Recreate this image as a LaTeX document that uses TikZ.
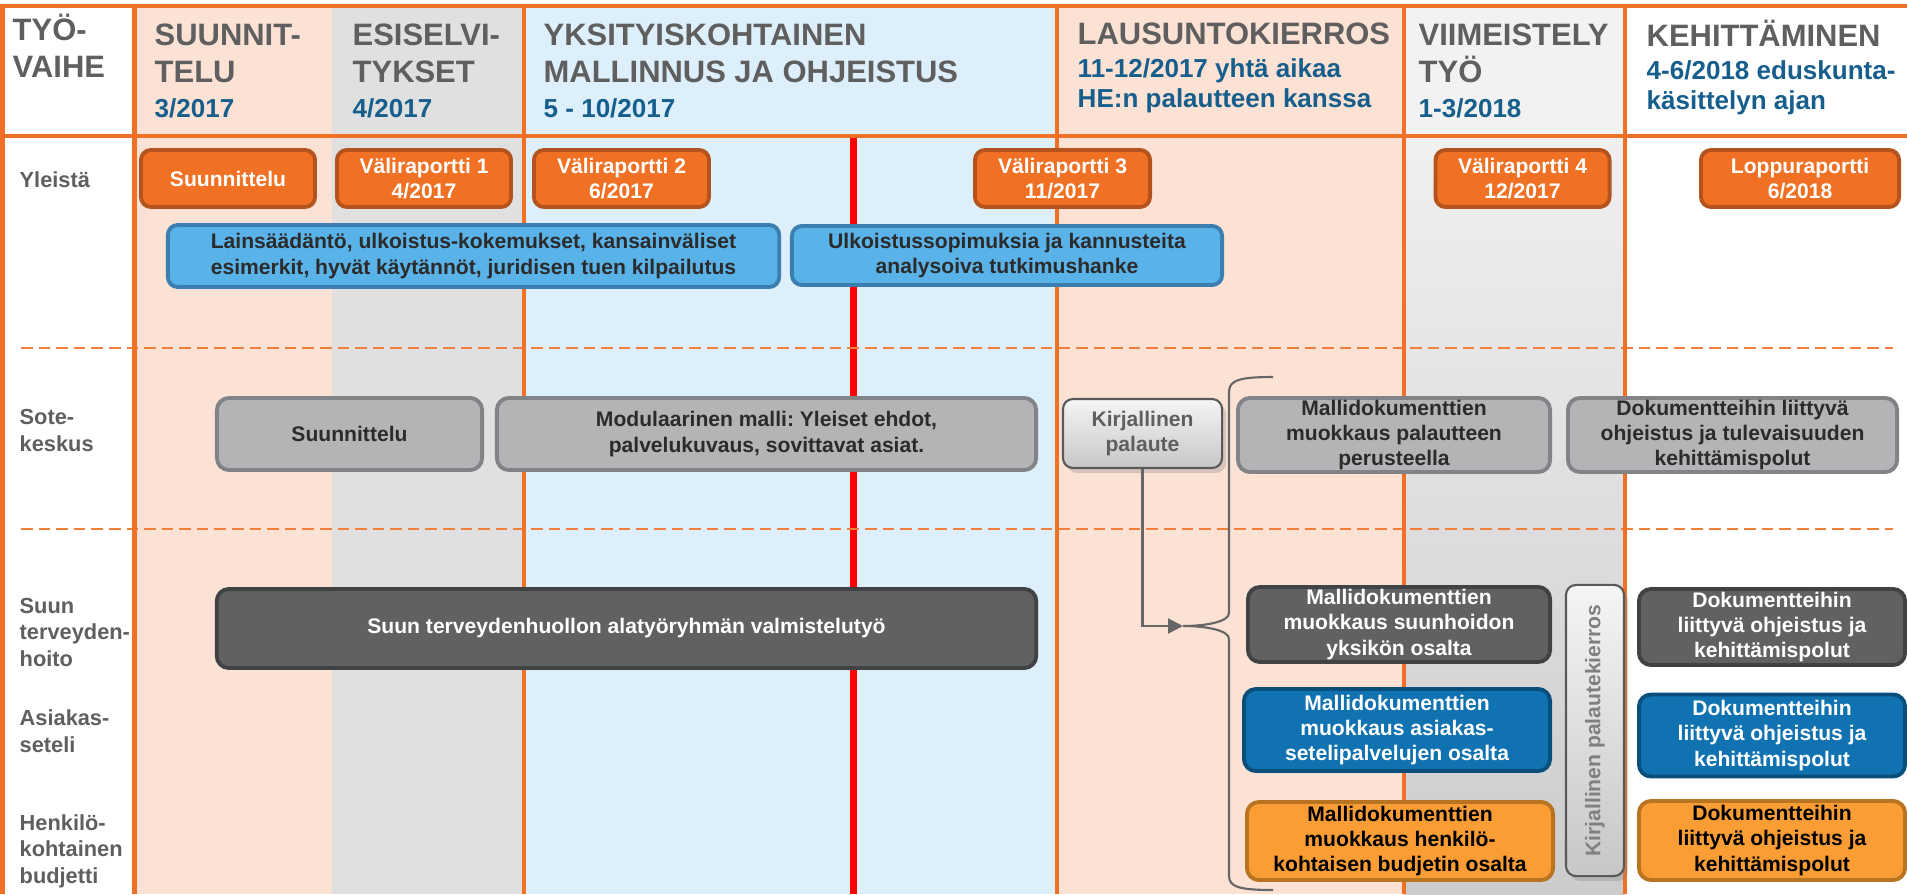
\documentclass[tikz,border=0pt]{standalone}
\usepackage{fontspec}
\setmainfont{Liberation Sans}
\usetikzlibrary{shadows,arrows.meta}
\frenchspacing

\definecolor{orangerule}{HTML}{F07125}
\definecolor{peach}{HTML}{FCE2D4}
\definecolor{paleshade}{HTML}{DFE0DF}
\definecolor{sky}{HTML}{DDEFFA}
\definecolor{finalhead}{HTML}{F2F2F2}
\definecolor{titlegrey}{HTML}{5F5F5F}
\definecolor{dateblue}{HTML}{165E8C}
\definecolor{darktext}{HTML}{2B2B2B}
\definecolor{repfill}{HTML}{F07124}
\definecolor{repdraw}{HTML}{B5531F}
\definecolor{studyfill}{HTML}{5AB3E8}
\definecolor{studydraw}{HTML}{3A7FB0}
\definecolor{sotefill}{HTML}{B3B4B6}
\definecolor{sotedraw}{HTML}{828386}
\definecolor{oralfill}{HTML}{606163}
\definecolor{oraldraw}{HTML}{414244}
\definecolor{voucherfill}{HTML}{1072B0}
\definecolor{voucherdraw}{HTML}{0A4E7C}
\definecolor{budgetfill}{HTML}{F99D34}
\definecolor{budgetdraw}{HTML}{B87420}
\definecolor{notedraw}{HTML}{595959}
\definecolor{linkgrey}{HTML}{666666}

\tikzset{
  card/.style={rounded corners=0.1cm, line width=1.1pt, align=center, inner sep=0pt,
    font=\fontsize{6}{7.2}\selectfont\bfseries},
  report/.style={card, fill=repfill, draw=repdraw, text=white},
  study/.style={card, fill=studyfill, draw=studydraw, text=darktext},
  sote/.style={card, rounded corners=0.12cm, fill=sotefill, draw=sotedraw, text=darktext},
  oral/.style={card, rounded corners=0.12cm, fill=oralfill, draw=oraldraw, text=white},
  voucher/.style={card, rounded corners=0.12cm, fill=voucherfill, draw=voucherdraw, text=white},
  budget/.style={card, rounded corners=0.12cm, fill=budgetfill, draw=budgetdraw, text=black},
  feedback/.style={card, line width=0.6pt, draw=notedraw, text=titlegrey,
    top color=white!96!black, bottom color=white!78!black,
    drop shadow={shadow xshift=0.04cm, shadow yshift=-0.05cm, opacity=0.3}},
  phasetitle/.style={anchor=base west, inner sep=0pt, align=left, text=titlegrey,
    font=\fontsize{8.8}{10.8}\selectfont\bfseries},
  phasedate/.style={anchor=base west, inner sep=0pt, align=left, text=dateblue,
    font=\fontsize{7.4}{8.8}\selectfont\bfseries},
  rowname/.style={anchor=base west, inner sep=0pt, align=left, text=titlegrey,
    font=\fontsize{6.2}{7.4}\selectfont\bfseries},
  colrule/.style={draw=orangerule, line width=1.4pt},
  rowsep/.style={draw=orangerule!90!white, line width=0.7pt, dash pattern=on 3.3pt off 1.7pt},
  bracket/.style={draw=linkgrey, line width=0.6pt},
}

\begin{document}
\begin{tikzpicture}[x=0.01cm, y=-0.01cm]
\useasboundingbox (0,0) rectangle (1907,894);

% column backgrounds
\fill[peach] (134,6) rectangle (332,894);
\fill[paleshade] (332,6) rectangle (524,894);
\fill[sky] (524,6) rectangle (1057,894);
\fill[peach] (1057,6) rectangle (1404,894);
\fill[finalhead] (1404,6) rectangle (1625,136);
\shade[top color=white!94!black, bottom color=white!80!black] (1404,136) rectangle (1625,894);

% deadline
\draw[red, line width=2pt] (853,138) -- (853,894);

% row separators
\draw[rowsep] (21,348) -- (1893,348);
\draw[rowsep] (21,529) -- (1893,529);

% grid
\draw[colrule] (0,6) -- (1907,6);
\draw[colrule] (0,136) -- (1907,136);
\draw[colrule] (2.5,6) -- (2.5,894);
\draw[colrule] (134.5,6) -- (134.5,894);
\draw[colrule] (524,6) -- (524,894);
\draw[colrule] (1057,6) -- (1057,894);
\draw[colrule] (1404,6) -- (1404,894);
\draw[colrule] (1625,6) -- (1625,894);

% header (base = last line)
\node[phasetitle] (tyo) at (12,78) {TYÖ-\\VAIHE};
\node[phasetitle] (suunt) at (154,83) {SUUNNIT-\\TELU};
\node[phasedate] (suund) at (154,117) {3/2017};
\node[phasetitle] (esist) at (352,83) {ESISELVI-\\TYKSET};
\node[phasedate] (esisd) at (352,117) {4/2017};
\node[phasetitle] (yksit) at (543,83) {YKSITYISKOHTAINEN\\MALLINNUS JA OHJEISTUS};
\node[phasedate] (yksid) at (543,117) {5 - 10/2017};
\node[phasetitle] (laust) at (1077,45) {LAUSUNTOKIERROS};
\node[phasedate] (lausd) at (1077,108) {11-12/2017 yhtä aikaa\\HE:n palautteen kanssa};
\node[phasetitle] (viimt) at (1418,83) {VIIMEISTELY\\TYÖ};
\node[phasedate] (viimd) at (1418,117) {1-3/2018};
\node[phasetitle] (kehit) at (1646,47) {KEHITTÄMINEN};
\node[phasedate] (kehid) at (1646,110) {4-6/2018 eduskunta-\\käsittelyn ajan};

% row names
\node[rowname] (yleista) at (19,187) {Yleistä};
\node[rowname] (sotek) at (19,451) {Sote-\\keskus};
\node[rowname] (suunh) at (19,666) {Suun\\terveyden-\\hoito};
\node[rowname] (asiak) at (19,752) {Asiakas-\\seteli};
\node[rowname] (henki) at (19,883) {Henkilö-\\kohtainen\\budjetti};

% Yleistä
\node[report, minimum width=1.74cm, minimum height=0.57cm] (suunn) at (228,178.5) {Suunnittelu};
\node[report, minimum width=1.74cm, minimum height=0.57cm] (vr1) at (424,178.5) {Väliraportti 1\\4/2017};
\node[report, minimum width=1.75cm, minimum height=0.57cm] (vr2) at (621.5,178.5) {Väliraportti 2\\6/2017};
\node[report, minimum width=1.75cm, minimum height=0.57cm] (vr3) at (1062.5,178.5) {Väliraportti 3\\11/2017};
\node[report, minimum width=1.74cm, minimum height=0.57cm] (vr4) at (1522.5,178.5) {Väliraportti 4\\12/2017};
\node[report, minimum width=1.98cm, minimum height=0.57cm] (loppu) at (1800,178.5) {Loppuraportti\\6/2018};
\node[study, minimum width=6.11cm, minimum height=0.62cm] (laki) at (473.5,256) {Lainsäädäntö, ulkoistus-kokemukset, kansainväliset\\esimerkit, hyvät käytännöt, juridisen tuen kilpailutus};
\node[study, minimum width=4.30cm, minimum height=0.59cm] (ulko) at (1007,255.5) {Ulkoistussopimuksia ja kannusteita\\analysoiva tutkimushanke};

% Sote-keskus
\node[sote, minimum width=2.65cm, minimum height=0.72cm] (sotesuunn) at (349.5,434) {Suunnittelu};
\node[sote, minimum width=5.39cm, minimum height=0.72cm] (modul) at (766.5,434) {Modulaarinen malli: Yleiset ehdot,\\palvelukuvaus, sovittavat asiat.};
\node[feedback, minimum width=1.59cm, minimum height=0.69cm] (palaute) at (1142.5,433.5) {Kirjallinen\\palaute};
\node[sote, minimum width=3.12cm, minimum height=0.74cm] (muokpal) at (1394,435) {Mallidokumenttien\\muokkaus palautteen\\perusteella};
\node[sote, minimum width=3.29cm, minimum height=0.74cm] (dokohj) at (1732.5,435) {Dokumentteihin liittyvä\\ohjeistus ja tulevaisuuden\\kehittämispolut};

% alatyöryhmät
\node[oral, minimum width=8.19cm, minimum height=0.79cm] (suunval) at (626.5,628.5) {Suun terveydenhuollon alatyöryhmän valmistelutyö};
\node[oral, minimum width=3.02cm, minimum height=0.75cm] (muoksuu) at (1399,624.5) {Mallidokumenttien\\muokkaus suunhoidon\\yksikön osalta};
\node[voucher, minimum width=3.06cm, minimum height=0.82cm] (muokase) at (1397,730) {Mallidokumenttien\\muokkaus asiakas-\\setelipalvelujen osalta};
\node[budget, minimum width=3.06cm, minimum height=0.78cm] (muokhen) at (1400,841) {Mallidokumenttien\\muokkaus henkilö-\\kohtaisen budjetin osalta};
\node[feedback, rotate=90, text=white!50!black, minimum width=2.91cm, minimum height=0.58cm] (kierros) at (1595,730.5) {Kirjallinen palautekierros};
\node[oral, minimum width=2.66cm, minimum height=0.76cm] (doksuu) at (1772,627) {Dokumentteihin\\liittyvä ohjeistus ja\\kehittämispolut};
\node[voucher, minimum width=2.66cm, minimum height=0.82cm] (dokase) at (1772,735.5) {Dokumentteihin\\liittyvä ohjeistus ja\\kehittämispolut};
\node[budget, minimum width=2.66cm, minimum height=0.79cm] (dokhen) at (1772,840.5) {Dokumentteihin\\liittyvä ohjeistus ja\\kehittämispolut};

% palaute to the bracket
\coordinate (bracetip) at (1183,626);
\draw[bracket] (1273,377) .. controls (1240,377) and (1229,380) .. (1229,392) -- (1229,613)
  .. controls (1229,622) and (1205,626) .. (bracetip)
  .. controls (1205,626) and (1229,630) .. (1229,639) -- (1229,876)
  .. controls (1229,887) and (1240,890) .. (1273,890);
\draw[bracket, -{Triangle[length=0.15cm, width=0.15cm]}] (palaute.south) |- (bracetip);

\end{tikzpicture}
\end{document}
